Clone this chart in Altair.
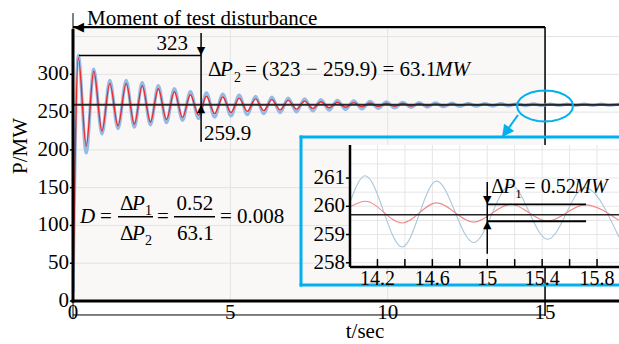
import altair as alt
import pandas as pd

# ---------------- data ----------------
t = [0.00, 0.17, 0.42, 0.66, 0.92, 1.17, 1.43, 1.69, 1.95, 2.20, 2.46, 2.71, 2.97, 3.22, 3.48,
     3.73, 3.99, 4.24, 4.50, 4.76, 5.02, 5.28, 5.54, 5.80, 6.06, 6.32, 6.58, 6.84, 7.10, 7.36,
     7.62, 7.88, 8.14, 8.40, 8.66, 8.92, 9.18, 9.44, 9.70, 9.96, 10.22, 10.48, 10.74, 11.00,
     11.26, 11.52, 11.78, 12.04, 12.30, 12.56, 12.82, 13.08, 13.34, 13.60, 13.85, 14.00, 14.11,
     14.38, 14.63, 14.90, 15.17, 15.44, 15.71, 15.96, 16.25, 16.52, 16.79, 17.06, 17.33, 17.60]

p_red = [12, 322, 205, 304, 225, 288, 232, 288, 234, 285, 237, 281, 240, 277, 243,
         273, 246, 271, 248, 270, 249.5, 268.5, 251, 267.5, 252, 266.5, 253, 265.5, 254, 264.6,
         255, 263.8, 255.8, 263.1, 256.4, 262.6, 256.9, 262.1, 257.4, 261.7, 257.8, 261.4, 258.1, 261.1,
         258.4, 260.9, 258.65, 260.7, 258.85, 260.55, 259.0, 260.42, 259.15, 260.3, 259.3, 259.98, 260.18,
         259.41, 260.12, 259.44, 260.07, 259.47, 260.05, 259.5, 260.02, 259.53, 260.0, 259.55, 259.98, 259.57]

p_blue = [12, 325, 196, 307, 221, 292, 228, 292, 230, 289, 233, 285, 236, 281, 239,
          277, 241.5, 275.5, 243.5, 274, 245, 272.5, 246.5, 271, 248, 269.8, 249.2, 268.6, 250.4, 267.5,
          251.5, 266.5, 252.5, 265.6, 253.4, 264.8, 254.2, 264.1, 255, 263.5, 255.6, 263, 256.2, 262.5,
          256.7, 262.1, 257.1, 261.8, 257.5, 261.6, 257.8, 261.4, 258.05, 261.25, 258.3, 260.15, 261.08,
          258.56, 260.89, 258.72, 260.76, 258.83, 260.66, 258.9, 260.57, 258.98, 260.5, 259.05, 260.43, 259.1]

y_labels = [0, 50, 100, 150, 200, 250, 300]
y_grid = [50, 100, 150, 200, 250, 300, 350]
x_labels = [0, 5, 10, 15]
x_grid = [5, 10, 15]

inset_x_labels = [14.2, 14.6, 15.0, 15.4, 15.8]
inset_x_minor = [14.2, 14.4, 14.6, 14.8, 15.0, 15.2, 15.4, 15.6, 15.8]
inset_y_labels = [258, 259, 260, 261]
inset_y_grid = [258.0, 258.5, 259.0, 259.5, 260.0, 260.5, 261.0, 261.5, 262.0]

steady_main = 259.9
steady_inset = 259.7
peak_level = 325
dp1_high = 260.07
dp1_low = 259.47

# outline angles (degrees) for the highlight ellipse
ellipse_deg = [0, 15, 30, 45, 60, 75, 90, 105, 120, 135, 150, 165, 180,
               195, 210, 225, 240, 255, 270, 285, 300, 315, 330, 345, 360]

# ---------------- styling / geometry ----------------
FONT = "Liberation Serif"
SYM = "DejaVu Sans"
RED = "#ec2a2c"
BLUE = "#94bae6"
CYAN = "#00b0f0"
W, H = 546, 272
XMAX, YMAX = 17.35, 360
TOP = 362.6
PXS = W / XMAX
PYS = H / YMAX

IX0, IX1 = 14.0, 15.96
IY0, IY1 = 257.85, 262.17
IPX0, IPX1 = 277.0, 546.0
IPY0, IPY1 = 238.0, 116.0
IXS = (IPX1 - IPX0) / (IX1 - IX0)
IYS = (IPY0 - IPY1) / (IY1 - IY0)


def ix(v):
    return (IPX0 + (v - IX0) * IXS) / PXS


def iy(v):
    return (H - (IPY0 - (v - IY0) * IYS)) / PYS


IX_EXPR = f"({IPX0} + (datum.{{f}} - {IX0}) * {IXS}) / {PXS}"
IY_EXPR = f"({H} - ({IPY0} - (datum.{{f}} - {IY0}) * {IYS})) / {PYS}"

xs = alt.Scale(domain=[0, XMAX], nice=False, zero=False)
ys = alt.Scale(domain=[0, YMAX], nice=False, zero=False)

df = pd.DataFrame({"t": t, "red": p_red, "blue": p_blue})
one = pd.DataFrame({"k": [0]})


def DX(v):
    return alt.XDatum(v, axis=None)


def DY(v):
    return alt.YDatum(v, axis=None)


def hrule(x1, x2, y, color="black", w=1.5):
    return alt.Chart(one).mark_rule(color=color, strokeWidth=w).encode(
        x=DX(x1), x2=alt.datum(x2), y=DY(y))


def vrule(x, y1, y2, color="black", w=1.5):
    return alt.Chart(one).mark_rule(color=color, strokeWidth=w).encode(
        x=DX(x), y=DY(y1), y2=alt.datum(y2))


def seg(x1, y1, x2, y2, color="black", w=1.5):
    return alt.Chart(one).mark_rule(color=color, strokeWidth=w).encode(
        x=DX(x1), y=DY(y1), x2=alt.datum(x2), y2=alt.datum(y2))


def glyph(ch, x, y, size=11, angle=0, color="black"):
    return alt.Chart(one).mark_text(text=ch, font=SYM, fontSize=size, align="center",
                                    baseline="middle", angle=angle, color=color).encode(
        x=DX(x), y=DY(y))


def txt(s, x, y, dx=0, dy=0, size=21, italic=False, align="left"):
    return alt.Chart(one).mark_text(text=s, font=FONT, fontSize=size,
                                    fontStyle="italic" if italic else "normal",
                                    align=align, baseline="alphabetic", dx=dx, dy=dy,
                                    color="black").encode(x=DX(x), y=DY(y))


def ptxt(s, px, py, size=21, angle=0, baseline="alphabetic"):
    return alt.Chart(one).mark_text(text=s, font=FONT, fontSize=size, align="center",
                                    baseline=baseline, angle=angle, color="black").encode(
        x=alt.value(px), y=alt.value(py))


anchor = alt.Chart(df).mark_line(strokeOpacity=0).encode(
    x=alt.X("t:Q", scale=xs, axis=None), y=alt.Y("red:Q", scale=ys, axis=None))

# ---------------- main chart ----------------
bg = alt.Chart(one).mark_rect(color="#f9f8f6").encode(
    x=DX(0), x2=alt.datum(15), y=DY(0), y2=alt.datum(TOP))
grid_h = alt.Chart(pd.DataFrame({"v": y_grid})).mark_rule(color="#e3e3e3", strokeWidth=1).encode(
    y=alt.Y("v:Q", scale=ys, axis=None), x=DX(0), x2=alt.datum(XMAX))
grid_v = alt.Chart(pd.DataFrame({"v": x_grid})).mark_rule(color="#e3e3e3", strokeWidth=1).encode(
    x=alt.X("v:Q", scale=xs, axis=None), y=DY(0), y2=alt.datum(YMAX))

blue_main = alt.Chart(df).mark_line(color=BLUE, strokeWidth=3.2, interpolate="monotone",
                                    clip=True).encode(
    x=alt.X("t:Q", scale=xs, axis=None), y=alt.Y("blue:Q", scale=ys, axis=None))
red_main = alt.Chart(df).mark_line(color=RED, strokeWidth=1.4, interpolate="monotone",
                                   clip=True).encode(
    x=alt.X("t:Q", scale=xs, axis=None), y=alt.Y("red:Q", scale=ys, axis=None))

y_lab = alt.Chart(pd.DataFrame({"v": y_labels})).mark_text(
    font=FONT, fontSize=21, align="right", baseline="middle", dx=-4, color="black").encode(
    y=alt.Y("v:Q", scale=ys, axis=None), x=DX(0), text="v:Q")
y_tk = alt.Chart(pd.DataFrame({"v": y_labels})).mark_rule(color="black", strokeWidth=1.5).encode(
    y=alt.Y("v:Q", scale=ys, axis=None), x=DX(-0.1), x2=alt.datum(0))
x_lab = alt.Chart(pd.DataFrame({"v": x_labels})).mark_text(
    font=FONT, fontSize=21, align="center", baseline="top", dy=1, color="black").encode(
    x=alt.X("v:Q", scale=xs, axis=None), y=DY(0), text="v:Q")

ellipse = alt.Chart(pd.DataFrame({"a": ellipse_deg})).transform_calculate(
    ex="15.0 + 0.89 * cos(datum.a * PI / 180)",
    ey="258.1 + 20.5 * sin(datum.a * PI / 180)",
).mark_line(color=CYAN, strokeWidth=2).encode(
    x=alt.X("ex:Q", scale=xs, axis=None), y=alt.Y("ey:Q", scale=ys, axis=None), order="a:Q")

main_parts = [
    anchor,
    bg, grid_h, grid_v,
    vrule(15, -20, TOP, w=1.5),
    hrule(0, 15, -18.5, w=1),
    vrule(0, -24, 0, w=1),
    blue_main, red_main,
    hrule(0, XMAX, steady_main, color="#262626", w=2),
    vrule(0, -2, YMAX, w=3),
    hrule(-0.05, XMAX, 0, w=3),
    y_tk, y_lab, x_lab,
    hrule(0, 15, TOP, w=2.2),
    vrule(0, 358, 381, w=1),
    glyph("◀", 0.19, TOP, size=13),
    txt("Moment of test disturbance", 0.445, 365.9, size=21),
    hrule(0.19, 4.07, peak_level, w=1.5),
    vrule(4.07, 210.8, 354.7, w=1.5),
    glyph("▼", 4.07, 330.6, size=11),
    glyph("▲", 4.07, 254.4, size=11),
    txt("323", 3.654, 332.2, align="right"),
    txt("259.9", 4.163, 213.1),
    txt("Δ", 4.29, 297.8),
    txt("P", 4.29, 297.8, dx=12, italic=True),
    txt("2", 4.29, 297.8, dx=26, dy=6, size=14),
    txt("= (323 − 259.9) = 63.1", 4.29, 297.8, dx=37),
    txt("MW", 4.29, 297.8, dx=227, italic=True),
    txt("D", 0.222, 103.2, italic=True),
    txt("=", 0.222, 103.2, dx=20),
    txt("Δ", 0.222, 103.2, dx=40, dy=-13),
    txt("P", 0.222, 103.2, dx=52, dy=-13, italic=True),
    txt("1", 0.222, 103.2, dx=65, dy=-8, size=14),
    txt("Δ", 0.222, 103.2, dx=40, dy=17),
    txt("P", 0.222, 103.2, dx=52, dy=17, italic=True),
    txt("2", 0.222, 103.2, dx=65, dy=22, size=14),
    hrule(1.43, 2.542, 111.6, w=1.5),
    txt("=", 0.222, 103.2, dx=77),
    txt("0.52", 0.222, 103.2, dx=115, dy=-13, align="center"),
    txt("63.1", 0.222, 103.2, dx=115.5, dy=17, align="center"),
    hrule(3.209, 4.512, 111.6, w=1.5),
    txt("= 0.008", 0.222, 103.2, dx=140),
    hrule(7.2, XMAX, 217.0, color=CYAN, w=3),
    hrule(7.2, XMAX, 21.2, color=CYAN, w=3),
    vrule(7.245, 19.2, 219.0, color=CYAN, w=3),
    ellipse,
    seg(14.14, 246.2, 13.76, 224.0, color=CYAN, w=2),
    glyph("▲", 13.72, 222.5, size=16, angle=216, color=CYAN),
    ptxt("t/sec", 292, 309),
    ptxt("P/MW", -52, 117, angle=270, baseline="middle"),
]

# ---------------- inset (mapped into the main plot's pixel box) ----------------
rng = alt.FieldRangePredicate(field="t", range=[IX0, IX1])
ix_e = IX_EXPR.format(f="t")
gx = IX_EXPR.format(f="v")
gy = IY_EXPR.format(f="v")

inset_parts = [
    alt.Chart(one).mark_rect(color="white").encode(
        x=DX(ix(IX0)), x2=alt.datum(XMAX), y=DY(iy(IY0)), y2=alt.datum(iy(IY1))),
    alt.Chart(pd.DataFrame({"v": inset_x_minor})).transform_calculate(px=gx)
    .mark_rule(color="#e6e6e6", strokeWidth=1).encode(
        x=alt.X("px:Q", scale=xs, axis=None), y=DY(iy(IY0)), y2=alt.datum(iy(IY1))),
    alt.Chart(pd.DataFrame({"v": inset_y_grid})).transform_calculate(py=gy)
    .mark_rule(color="#e6e6e6", strokeWidth=1).encode(
        y=alt.Y("py:Q", scale=ys, axis=None), x=DX(ix(IX0)), x2=alt.datum(XMAX)),
    alt.Chart(df).transform_filter(rng).transform_calculate(
        px=ix_e, py=IY_EXPR.format(f="blue"))
    .mark_line(color="#a9c7dc", strokeWidth=1.1, interpolate="monotone").encode(
        x=alt.X("px:Q", scale=xs, axis=None), y=alt.Y("py:Q", scale=ys, axis=None)),
    alt.Chart(df).transform_filter(rng).transform_calculate(
        px=ix_e, py=IY_EXPR.format(f="red"))
    .mark_line(color="#ef8a8a", strokeWidth=1.1, interpolate="monotone").encode(
        x=alt.X("px:Q", scale=xs, axis=None), y=alt.Y("py:Q", scale=ys, axis=None)),
    hrule(ix(IX0), XMAX, iy(steady_inset), color="#222222", w=1.5),
    vrule(ix(IX0), iy(IY0), iy(IY1), w=2.5),
    hrule(ix(IX0), XMAX, iy(IY0), w=2.5),
    alt.Chart(pd.DataFrame({"v": inset_x_minor})).transform_calculate(px=gx)
    .mark_rule(color="black", strokeWidth=1.5).encode(
        x=alt.X("px:Q", scale=xs, axis=None), y=DY(iy(IY0)), y2=alt.datum(iy(IY0 + 0.28))),
    alt.Chart(pd.DataFrame({"v": inset_y_labels})).transform_calculate(py=gy)
    .mark_rule(color="black", strokeWidth=1.5).encode(
        y=alt.Y("py:Q", scale=ys, axis=None), x=DX(ix(IX0) - 0.13), x2=alt.datum(ix(IX0))),
    alt.Chart(pd.DataFrame({"v": inset_y_labels})).transform_calculate(py=gy)
    .mark_text(font=FONT, fontSize=21, align="right", baseline="middle", dx=-5, color="black")
    .encode(y=alt.Y("py:Q", scale=ys, axis=None), x=DX(ix(IX0)), text="v:Q"),
    alt.Chart(pd.DataFrame({"v": inset_x_labels})).transform_calculate(px=gx)
    .mark_text(font=FONT, fontSize=20, align="center", baseline="top", dy=2, color="black")
    .encode(x=alt.X("px:Q", scale=xs, axis=None), y=DY(iy(IY0)), text="v:Q"),
    hrule(ix(15.0), ix(15.72), iy(dp1_high), w=1.8),
    hrule(ix(15.0), ix(15.72), iy(dp1_low), w=1.8),
    vrule(ix(15.0), iy(258.32), iy(260.86), w=1.5),
    glyph("▼", ix(15.0), iy(260.22), size=11),
    glyph("▲", ix(15.0), iy(259.32), size=11),
    txt("Δ", ix(15.03), iy(260.46), size=20),
    txt("P", ix(15.03), iy(260.46), dx=12, size=20, italic=True),
    txt("1", ix(15.03), iy(260.46), dx=24, dy=5, size=13),
    txt("= 0.52", ix(15.03), iy(260.46), dx=33, size=20),
    txt("MW", ix(15.03), iy(260.46), dx=83, size=20, italic=True),
]

chart = alt.layer(*main_parts, *inset_parts).properties(
    width=W, height=H,
    padding={"left": 73, "top": 29, "right": 0, "bottom": 43},
    autosize=alt.AutoSizeParams(type="none"),
    background="white",
).configure_view(strokeWidth=0)

chart.save("out.html", embed_options={"renderer": "svg", "actions": False})
